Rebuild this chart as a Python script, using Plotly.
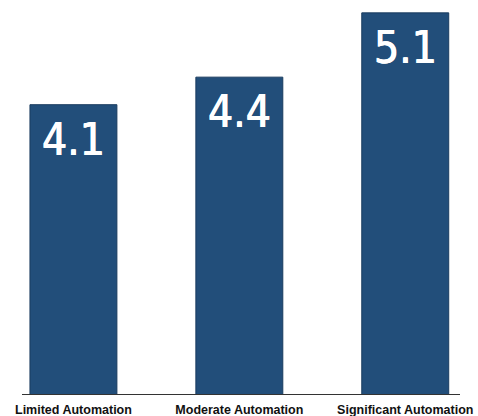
import plotly.graph_objects as go

categories = ["Limited Automation", "Moderate Automation", "Significant Automation"]
values = [4.1, 4.4, 5.1]
labels = ["4.1", "4.4", "5.1"]

BAR = "#224e7a"
EDGE = "#1a3c5f"
FONT_NUM = "DejaVu Sans Condensed"
FONT_TICK = "Liberation Sans, Arial, sans-serif"

fig = go.Figure()
fig.add_trace(go.Bar(
    x=categories, y=values,
    marker=dict(color=BAR, line=dict(color=EDGE, width=1)),
    width=0.524,
    hoverinfo="skip",
))

for c, v, t in zip(categories, values, labels):
    fig.add_annotation(
        x=c, y=v, text=t, showarrow=False,
        xanchor="center", yanchor="top", yshift=-7,
        font=dict(family=FONT_NUM, size=44, color="white",
                  shadow="0.4px 0 0 white, -0.4px 0 0 white"),
    )

fig.update_layout(
    width=478, height=416,
    margin=dict(l=22, r=18, t=0, b=22),
    paper_bgcolor="white", plot_bgcolor="white",
    showlegend=False,
    xaxis=dict(
        range=[-0.31, 2.33], automargin=False,
        showline=True, linecolor="#333333", linewidth=1,
        showgrid=False, ticks="", ticklabelstandoff=4,
        tickfont=dict(family=FONT_TICK, size=12.5, color="#111111", weight="bold"),
    ),
    yaxis=dict(
        range=[0.95, 5.24], automargin=False,
        visible=False, showgrid=False,
    ),
)

fig.write_html("out.html")
